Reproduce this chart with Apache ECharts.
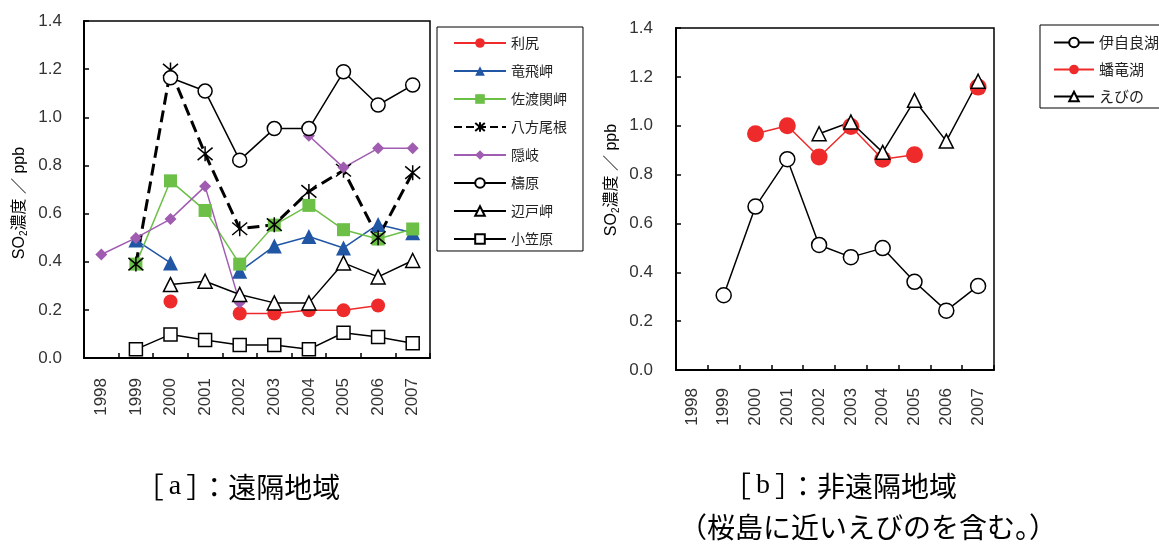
<!DOCTYPE html>
<html>
<head>
<meta charset="utf-8">
<script src="https://cdn.jsdelivr.net/npm/echarts@6/dist/echarts.min.js"></script>
<style>
html,body{margin:0;padding:0;background:#fff;}
#c{width:1159px;height:545px;}
</style>
</head>
<body>
<div id="c"></div>
<script>
// ---- data ----
var years = ['1998','1999','2000','2001','2002','2003','2004','2005','2006','2007'];
var yTicks = [0, 0.2, 0.4, 0.6, 0.8, 1.0, 1.2, 1.4];

// [a] remote sites
var rishiri   = [null, null, 0.235, null, 0.185, 0.185, 0.198, 0.198, 0.218, null];
var tappi     = [null, 0.49, 0.395, null, 0.36, 0.465, 0.505, 0.457, 0.555, 0.52];
var sado      = [null, 0.39, 0.736, 0.613, 0.39, 0.552, 0.634, 0.533, 0.494, 0.536];
var happo     = [null, 0.39, 1.196, 0.848, 0.537, 0.554, 0.692, 0.78, 0.50, 0.77];
var oki       = [0.43, 0.499, 0.577, 0.713, 0.23, null, 0.923, 0.791, 0.871, 0.871];
var yusuhara  = [null, null, 1.164, 1.109, 0.822, 0.953, 0.953, 1.189, 1.051, 1.134];
var hedo      = [null, null, 0.305, 0.319, 0.264, 0.229, 0.229, 0.395, 0.337, 0.405];
var ogasawara = [null, 0.036, 0.098, 0.075, 0.054, 0.054, 0.036, 0.105, 0.087, 0.061];

// [b] non-remote sites
var ijira  = [null, 0.306, 0.669, 0.863, 0.512, 0.462, 0.499, 0.361, 0.243, 0.344];
var banryu = [null, null, 0.967, 1.0, 0.872, 0.997, 0.863, 0.881, null, 1.158];
var ebino  = [null, null, null, null, 0.967, 1.015, 0.891, 1.104, 0.937, 1.182];

var namesA = ['利尻','竜飛岬','佐渡関岬','八方尾根','隠岐','檮原','辺戸岬','小笠原'];
var namesB = ['伊自良湖','蟠竜湖','えびの'];

// ---- chart ----
var chart = echarts.init(document.getElementById('c'), null, {renderer:'canvas'});
var LAB = {color:'#333', fontSize:17, fontFamily:"'Liberation Sans', Arial, sans-serif"};
var ASTER = 'path://M0,0L10,10M10,0L0,10M5,-1L5,11';

function xAx(gi, margin){
  return {
    type:'category', gridIndex:gi, data:years, boundaryGap:true,
    axisLine:{show:true, lineStyle:{color:'#000', width:2}},
    axisTick:{show:true, inside:true, length:5, lineStyle:{color:'#000', width:1.5}},
    axisLabel:Object.assign({rotate:90, margin:margin, interval:0}, LAB),
    splitLine:{show:false}
  };
}
function yAx(gi, margin){
  return {
    type:'value', gridIndex:gi, min:0, max:1.4, interval:0.2,
    axisLine:{show:true, lineStyle:{color:'#000', width:2}},
    axisTick:{show:true, inside:true, length:5, lineStyle:{color:'#000', width:1.5}},
    axisLabel:Object.assign({margin:margin, formatter:function(v){return v.toFixed(1);}}, LAB),
    splitLine:{show:false}
  };
}
function ser(name, data, gi, sym, size, fill, stroke, lineColor, lineW, dashed, bw){
  return {
    type:'line', name:name, data:data, xAxisIndex:gi, yAxisIndex:gi,
    symbol:sym, symbolSize:size, showAllSymbol:true, connectNulls:false,
    itemStyle:{color:fill, borderColor:stroke, borderWidth:bw||0, opacity:1},
    lineStyle:{color:lineColor, width:lineW, type:dashed?'dashed':'solid'},
    emphasis:{disabled:true}, animation:false
  };
}

var series = [
  ser('利尻', rishiri, 0, 'circle', 14, '#ee2a2a', '#ee2a2a', '#ee2a2a', 1.5, false, 0),
  ser('竜飛岬', tappi, 0, 'triangle', 15, '#2156a5', '#2156a5', '#2156a5', 1.5, false, 0),
  ser('佐渡関岬', sado, 0, 'rect', 13, '#6cbf47', '#6cbf47', '#6cbf47', 1.5, false, 0),
  ser('八方尾根', happo, 0, ASTER, 15, 'rgba(0,0,0,0)', '#000', '#000', 3, true, 1.5),
  ser('隠岐', oki, 0, 'diamond', 12, '#a05cb0', '#a05cb0', '#a05cb0', 1.5, false, 0),
  ser('檮原', yusuhara, 0, 'circle', 14, '#fff', '#000', '#000', 1.5, false, 1.5),
  ser('辺戸岬', hedo, 0, 'triangle', 14, '#fff', '#000', '#000', 1.5, false, 1.5),
  ser('小笠原', ogasawara, 0, 'rect', 13, '#fff', '#000', '#000', 1.5, false, 1.5),
  ser('伊自良湖', ijira, 1, 'circle', 15, '#fff', '#000', '#000', 1.5, false, 1.5),
  ser('蟠竜湖', banryu, 1, 'circle', 17, '#ee2a2a', '#ee2a2a', '#ee2a2a', 1.5, false, 0),
  ser('えびの', ebino, 1, 'triangle', 14, '#fff', '#000', '#000', 1.5, false, 1.5)
];

var legTxt = {color:'#222', fontSize:14, fontFamily:"'Noto Sans CJK JP', sans-serif"};
var nameRich = {
  a:{fontSize:16, color:'#333', fontFamily:"'Liberation Sans', 'Noto Sans CJK JP', sans-serif"},
  s:{fontSize:10, color:'#333', fontFamily:"'Liberation Sans', sans-serif", padding:[8,0,0,0]}
};
var capRich = {
  j:{fontSize:28, color:'#333', fontFamily:"'Noto Sans CJK JP', sans-serif"},
  l:{fontSize:28, color:'#333', fontFamily:"'Liberation Serif', serif", padding:[0,5,0,5]}
};

chart.setOption({
  animation:false,
  backgroundColor:'#fff',
  grid:[
    {left:84, top:21, width:346, height:337, show:true, borderColor:'#000', borderWidth:1.5, backgroundColor:'rgba(0,0,0,0)'},
    {left:676, top:28, width:318, height:342, show:true, borderColor:'#000', borderWidth:1.5, backgroundColor:'rgba(0,0,0,0)'}
  ],
  xAxis:[xAx(0, 20), xAx(1, 18)],
  yAxis:[yAx(0, 22), yAx(1, 23)],
  legend:[
    {data:namesA, orient:'vertical', left:437, top:27, itemWidth:52, itemHeight:12, itemGap:14,
     padding:[9,16,5,16], borderColor:'#000', borderWidth:1, textStyle:legTxt, selectedMode:false},
    {data:namesB, orient:'vertical', left:1040, top:25, itemWidth:40, itemHeight:12, itemGap:12,
     padding:[10,20,4,13], borderColor:'#000', borderWidth:1,
     textStyle:Object.assign({}, legTxt, {fontSize:15}), selectedMode:false}
  ],
  series:series,
  graphic:[
    {type:'text', x:20, y:203, rotation:Math.PI/2,
     style:{text:'{a|SO}{s|2}{a|濃度 ／ ppb}', rich:nameRich, align:'center', verticalAlign:'middle'}},
    {type:'text', x:612, y:180, rotation:Math.PI/2,
     style:{text:'{a|SO}{s|2}{a|濃度 ／ ppb}', rich:nameRich, align:'center', verticalAlign:'middle'}},
    {type:'text', x:238, y:487,
     style:{text:'{j|［}{l|a}{j|］：遠隔地域}', rich:capRich, align:'center', verticalAlign:'middle'}},
    {type:'text', x:840, y:486,
     style:{text:'{j|［}{l|b}{j|］：非遠隔地域}', rich:capRich, align:'center', verticalAlign:'middle'}},
    {type:'text', x:868, y:527,
     style:{text:'{j|（桜島に近いえびのを含む。）}', rich:capRich, align:'center', verticalAlign:'middle'}}
  ]
});
</script>
</body>
</html>
